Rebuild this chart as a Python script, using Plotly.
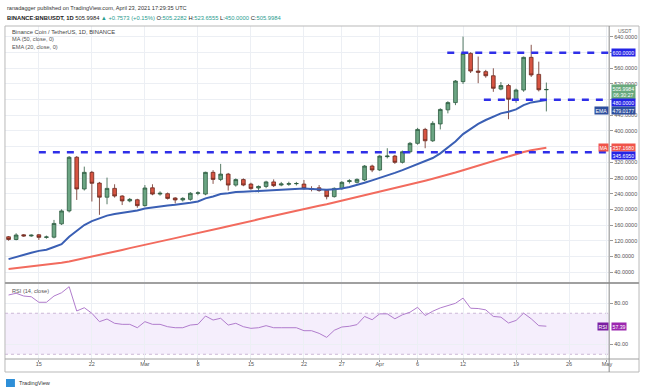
import pandas as pd
import plotly.graph_objects as go

# ---------------- data ----------------
dates = pd.date_range("2021-02-11", "2021-04-23", freq="D")

opens = [130, 123, 135, 132, 135, 128.5, 129, 163, 196, 333, 252, 294.5, 267, 231, 253.5, 234, 221.5, 224.5,
         209.5, 255, 239, 240, 229, 224, 225.5, 241, 239, 294.5, 276.5, 290, 262, 276, 264.5, 254.5, 258.5, 270,
         262, 264, 265.5, 264.5, 253, 255, 249, 232.5, 253, 271, 269, 275, 310.5,
         300.5, 334.5, 336, 320, 347, 368.5, 404, 375, 418, 454, 472.5, 526, 598, 553, 551.5, 541, 507, 516,
         481, 504.5, 588, 544.5, 505.2282]
highs = [132, 139, 137, 136, 137, 133, 173, 200, 336, 336, 309, 298, 270, 281, 264, 236, 229, 227,
         262, 264, 246, 243, 231, 231, 244, 246, 296, 300, 316, 293, 279, 279, 268, 261, 273, 276.5,
         270, 270.5, 270, 275, 259, 262, 252, 256, 272, 277, 279, 313, 314,
         338, 356, 339, 350, 372, 408, 408, 425, 458, 476, 530, 641, 601, 590, 556, 560, 525, 520,
         508, 590, 620, 577, 523.6555]
lows = [120, 121, 130, 130, 122, 125, 126, 160, 192, 224, 248, 220, 186, 213, 230, 211, 218, 204,
        207, 236, 235, 225, 215, 220, 222, 236, 236, 265, 272, 248, 258, 259, 250, 243, 254, 257,
        259, 260, 261, 250, 246, 245, 225.5, 230, 250, 266, 266, 272, 295,
        298, 330, 316, 317, 343, 365, 356, 372, 404, 445, 466, 520, 548, 522, 536, 500, 504, 430,
        472, 500, 538, 501, 450.0]
closes = [123, 134.5, 132, 134, 128.5, 129.5, 164, 196, 333, 252, 294.5, 266.5, 231, 253.5, 234, 221.5, 225.5, 209.5,
          254.5, 239, 241, 228, 224, 228, 241, 242, 294.5, 276.5, 290, 262, 276, 262, 253, 258.5, 270, 260.5,
          265, 265.5, 266, 253, 251, 248, 232.5, 253.5, 269, 273, 276.5, 310.5, 300.5,
          336, 336, 320, 347, 368.5, 404, 375, 419.5, 455, 472.5, 527.5, 598, 553, 550, 541, 509, 516, 481,
          504.5, 588, 543, 505.24, 505.9984]

ema20 = [73, 79, 84, 89, 94, 97, 104, 111, 130, 146, 160, 170, 177, 184, 188, 191, 194, 197,
         202, 205, 208, 210, 212, 214, 217, 220, 228, 233, 239, 241, 244, 245, 246, 247, 249, 250,
         251, 252, 253, 253, 252, 251, 250, 251, 253, 257, 262, 268, 274,
         280, 287, 293, 300, 308, 317, 323, 331, 343, 357, 373, 392, 405, 418, 428, 437, 445, 449,
         455, 466, 473, 476, 479.0177]
ma50 = [48, 50, 52, 54, 56, 58.5, 61, 63.5, 67, 71, 75, 79, 83.5, 88, 92, 96.5, 101, 105,
        109, 113, 117.5, 122, 126.5, 131, 135, 139.5, 144, 148, 152.5, 157, 161, 165.5, 170, 174.5, 179, 183.5,
        188, 192.5, 197, 201, 205, 209, 213, 217.5, 222, 226.5, 231, 235.5, 240,
        244.5, 249, 253.5, 258, 263, 268, 273, 278, 283, 288.5, 294, 300, 306, 312, 318, 324, 330, 335.5,
        341, 346.5, 351, 354.5, 357.168]
rsi14 = [87.8, 89.5, 86.8, 86.1, 80.7, 80.7, 86.8, 90.0, 95.9, 72.2, 75.4, 70.0, 61.8, 64.4, 60.2, 59.2, 59.2, 55.9,
         61.8, 59.2, 59.2, 56.9, 55.9, 55.9, 58.5, 59.2, 67.3, 63.4, 65.1, 58.5, 60.2, 56.9, 55.3, 55.9, 57.9, 55.9,
         55.9, 55.9, 55.9, 53.0, 53.0, 50.4, 46.5, 53.4, 56.6, 57.3, 58.9, 66.9, 63.7,
         69.4, 69.4, 64.6, 68.5, 71.0, 75.8, 67.8, 72.0, 75.2, 77.1, 79.7, 84.8, 74.9, 74.6, 73.3, 66.9, 66.2, 60.5,
         63.0, 70.1, 64.6, 57.9, 57.39]

levels = [600.0, 480.0, 345.695]
level_starts = ["2021-04-09 22:00", "2021-04-14 18:00", "2021-02-15"]

price_ticks = [40, 80, 120, 160, 200, 240, 280, 320, 360, 400, 440, 480, 520, 560, 600, 640]
hidden_price_ticks = [360, 480, 600]   # covered by the price tags on the axis
date_ticks = ["2021-02-15", "2021-02-22", "2021-03-01", "2021-03-08", "2021-03-15", "2021-03-22", "2021-03-27",
              "2021-04-01", "2021-04-06", "2021-04-12", "2021-04-19", "2021-04-26", "2021-05-01"]
date_labels = ["15", "22", "Mar", "8", "15", "22", "27", "Apr", "6", "12", "19", "26", "May"]
rsi_ticks = [40, 80]

# ---------------- layout helpers ----------------
W, H = 647, 389
def px(x):
    return x / W
def py(y):
    return 1 - y / H

X_RANGE = ["2021-02-10 12:40", "2021-05-01 07:00"]
FONT = "Liberation Sans"

fig = go.Figure()
fig.add_trace(go.Candlestick(
    x=dates, open=opens, high=highs, low=lows, close=closes,
    increasing=dict(fillcolor="#6ba583", line=dict(color="#2c5a3f", width=0.8)),
    decreasing=dict(fillcolor="#d75442", line=dict(color="#6b2a20", width=0.8)),
    xaxis="x", yaxis="y", hoverinfo="skip"))
fig.add_trace(go.Scatter(x=dates, y=ma50, mode="lines", line=dict(color="#f26b5e", width=2),
                         xaxis="x", yaxis="y", hoverinfo="skip"))
fig.add_trace(go.Scatter(x=dates, y=ema20, mode="lines", line=dict(color="#3a5fb4", width=2),
                         xaxis="x", yaxis="y", hoverinfo="skip"))
fig.add_trace(go.Scatter(x=dates, y=rsi14, mode="lines", line=dict(color="#b07ccc", width=1),
                         xaxis="x2", yaxis="y2", hoverinfo="skip"))

shapes = []
# RSI band
shapes.append(dict(type="rect", xref="paper", yref="y2", x0=px(5), x1=px(612), y0=30, y1=70,
                   fillcolor="rgba(160,90,230,0.10)", line=dict(width=0), layer="below"))
for lv in (30, 70):
    shapes.append(dict(type="line", xref="paper", yref="y2", x0=px(5), x1=px(612), y0=lv, y1=lv,
                       line=dict(color="#cbb8d6", width=1, dash="3px,3px"), layer="below"))
# horizontal levels
for lv, st in zip(levels, level_starts):
    shapes.append(dict(type="line", xref="x", yref="y", x0=st, x1=X_RANGE[1], y0=lv, y1=lv,
                       line=dict(color="#2f2fe8", width=2.5, dash="7px,7px")))
# frame
frame_col = "#b9b9b9"
shapes.append(dict(type="rect", xref="paper", yref="paper", x0=px(5), x1=px(642), y0=py(372), y1=py(26),
                   line=dict(color=frame_col, width=1)))
shapes.append(dict(type="line", xref="paper", yref="paper", x0=px(5), x1=px(642), y0=py(283), y1=py(283),
                   line=dict(color="#a0a0a0", width=2)))
shapes.append(dict(type="line", xref="paper", yref="paper", x0=px(5), x1=px(642), y0=py(359), y1=py(359),
                   line=dict(color="#a0a0a0", width=1)))
shapes.append(dict(type="line", xref="paper", yref="paper", x0=px(612), x1=px(612), y0=py(372), y1=py(26),
                   line=dict(color="#8a8a8a", width=1)))
# logo mark
shapes.append(dict(type="rect", xref="paper", yref="paper", x0=px(6), x1=px(15), y0=py(387), y1=py(379),
                   fillcolor="#2e8fd8", line=dict(width=0)))

ann = []
def A(x, y, text, size=6, color="#333", xanchor="left", yanchor="middle", **kw):
    ann.append(dict(xref="paper", yref="paper", x=px(x), y=py(y), text=text, showarrow=False,
                    xanchor=xanchor, yanchor=yanchor, font=dict(family=FONT, size=size, color=color), **kw))

A(5, 8, "ranadagger published on TradingView.com, April 23, 2021 17:29:35 UTC", size=5.6, color="#333")
teal = "#2a9d8f"
A(5, 18, "<b>BINANCE:BNBUSDT, 1D</b> 505.9984 "
         f"<span style='color:{teal}'>▲ +0.7573 (+0.15%)</span> "
         f"O:<span style='color:{teal}'>505.2282</span> H:<span style='color:{teal}'>523.6555</span> "
         f"L:<span style='color:{teal}'>450.0000</span> C:<span style='color:{teal}'>505.9984</span>",
  size=5.8, color="#222")
A(10, 32, "Binance Coin / TetherUS, 1D, BINANCE", size=5.8, color="#444")
A(10, 39.5, "MA (50, close, 0)", size=5.6, color="#555")
A(10, 47, "EMA (20, close, 0)", size=5.6, color="#555")
A(10, 291, "RSI (14, close)", size=5.6, color="#555")
A(17.5, 383, "TradingView", size=5.6, color="#333")
A(628, 31, "USDT", size=5, color="#666", xanchor="center")

def box(yval, text, bg, yref="y", x=613.5, xanchor="left", yshift=0, size=5.2):
    ann.append(dict(xref="paper", yref=yref, x=px(x), y=yval, text=text, showarrow=False,
                    xanchor=xanchor, yanchor="middle", yshift=yshift, bgcolor=bg, borderpad=0.5,
                    font=dict(family=FONT, size=size, color="white")))

blue = "#2424e6"
box(levels[0], "600.0000", blue)
box(closes[-1], "505.9984<br>06:30:27", "#68a97c", yshift=-3)
box(levels[1], "480.0000", blue, yshift=-3)
box(ema20[-1], "479.0177", "#2d4f9e", yshift=-10)
box(ema20[-1], "EMA", "#2d4f9e", x=611.5, xanchor="right", yshift=-10)
box(ma50[-1], "357.1680", "#f0544a", yshift=0.5)
box(ma50[-1], "MA", "#f0544a", x=611.5, xanchor="right", yshift=0.5)
box(levels[2], "345.6950", blue, yshift=-3)
box(rsi14[-1], "57.39", "#9c27b0", yref="y2")
box(rsi14[-1], "RSI", "#7b1fa2", yref="y2", x=611.5, xanchor="right")

grid = "#eceff4"
tickfont = dict(family=FONT, size=5.5, color="#555")
price_text = ["" if v in hidden_price_ticks else f"{v:.4f}" for v in price_ticks]
fig.update_layout(
    width=W, height=H, margin=dict(l=0, r=0, t=0, b=0),
    paper_bgcolor="white", plot_bgcolor="white", showlegend=False,
    shapes=shapes, annotations=ann,
    xaxis=dict(domain=[px(5), px(612)], range=X_RANGE, type="date", anchor="y",
               tickvals=date_ticks, showticklabels=False, showgrid=True, gridcolor=grid,
               zeroline=False, showline=False, rangeslider=dict(visible=False), ticks=""),
    yaxis=dict(domain=[py(283), py(26)], range=[12, 668], side="right", anchor="x",
               tickvals=price_ticks, ticktext=price_text, tickfont=tickfont,
               showgrid=True, gridcolor=grid, zeroline=False, ticks="outside", ticklen=3,
               tickcolor="#999", showline=False),
    xaxis2=dict(domain=[px(5), px(612)], range=X_RANGE, type="date", anchor="y2",
                tickvals=date_ticks, ticktext=date_labels, tickfont=tickfont,
                showgrid=True, gridcolor=grid, zeroline=False, ticks="outside", ticklen=2,
                tickcolor="#999", showline=False, ticklabelstandoff=-3),
    yaxis2=dict(domain=[py(359), py(283)], range=[25.4, 99.5], side="right", anchor="x2",
                tickvals=rsi_ticks, ticktext=[f"{v:.2f}" for v in rsi_ticks], tickfont=tickfont,
                showgrid=True, gridcolor=grid, zeroline=False, ticks="outside", ticklen=3,
                tickcolor="#999", showline=False),
)

fig.write_html("out.html", config={"displayModeBar": False},
               post_script="document.body.style.margin='0px';document.body.style.overflow='hidden';")
